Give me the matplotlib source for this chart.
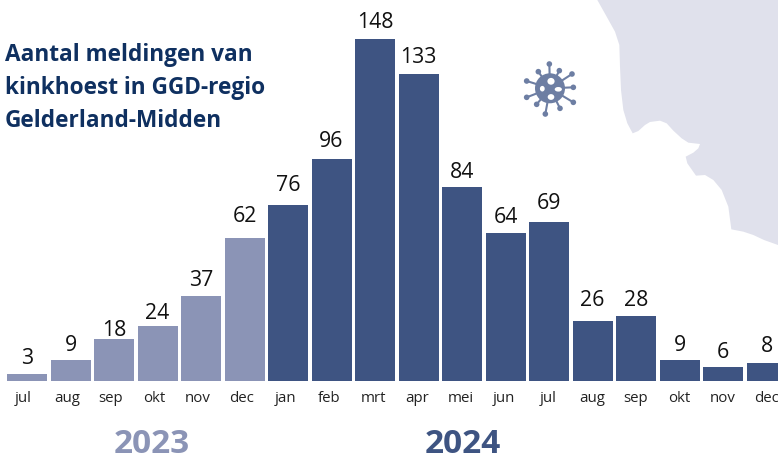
import matplotlib
matplotlib.use("Agg")
import matplotlib.pyplot as plt
from matplotlib.patches import Circle, Ellipse
import numpy as np

months = ["jul","aug","sep","okt","nov","dec","jan","feb","mrt","apr","mei","jun","jul","aug","sep","okt","nov","dec"]
values = [3,9,18,24,37,62,76,96,148,133,84,64,69,26,28,9,6,8]
years = ["2023"]*6 + ["2024"]*12
year_colors = {"2023":"#8b94b6","2024":"#3e5482"}
title = "Aantal meldingen van\nkinkhoest in GGD-regio\nGelderland-Midden"
# per-label vertical adjustment, in pixels
label_nudge = [-1,-2,-8,-5,-2,4,3,1,0,-1,-2,-1,1,4,-1,-2,-2,-1]

W,H = 778,454
plt.rcParams["font.family"] = ["Open Sans","DejaVu Sans"]
fig = plt.figure(figsize=(W/100,H/100),dpi=100)

# decorative background
bg = fig.add_axes([0,0,1,1],zorder=0)
bg.set_xlim(0,W); bg.set_ylim(H,0); bg.axis("off")
zoomed = [(22,0),(50,50),(75,95),(88,135),(90,200),(93,270),(100,330),(112,370),(128,400),(145,393),(165,375),(180,366),(210,362),(230,370),(250,392),(275,415),(295,428),(330,432),(325,445),(310,458),(287,470),(292,490),(318,527),(345,525),(370,540),(395,570),(415,620),(424,688),(460,695),(490,705),(522,720),(564,735)]
blob = [(590+x/3,y/3) for x,y in zoomed]+[(W,0)]
bg.fill(*zip(*blob),color="#e0e1ec",lw=0)

# virus icon
ic = "#6d7ea3"
cx,cy = 550,88.3
bg.add_patch(Circle((cx,cy),15,color=ic,lw=0,zorder=3))
heads = [(148,72),(178,92),(216,102),(220,142),(220,187),(180,205),(136,222),(110,193),(80,172),(80,123),(115,95)]
for hx,hy in heads:
    ex,ey = 500+hx/3,40+hy/3
    bg.plot([cx,ex],[cy,ey],color=ic,lw=1.5,solid_capstyle="round",zorder=2)
    bg.add_patch(Circle((ex,ey),2.8,color=ic,lw=0,zorder=3))
for hx,hy,rw,rh in [(551,81.3,3.6,3.4),(542.3,88.7,2.4,2.8),(558.3,89.3,3.6,2.3),(551,97,3.3,2.9)]:
    bg.add_patch(Ellipse((hx,hy),2*rw,2*rh,color="white",lw=0,zorder=4))

# chart
x0,step,base,pxu = 27.0,43.5,381.0,2.31
ax = fig.add_axes([0,(H-base)/H,1,base/H],zorder=1)
ax.patch.set_alpha(0)
ax.set_xlim(-x0/step,(W-x0)/step)
ax.set_ylim(0,base/pxu)
xs = np.arange(len(values))
ax.bar(xs,values,width=40/step,color=[year_colors[y] for y in years],lw=0)
for x,v,n in zip(xs,values,label_nudge):
    ax.annotate(str(v),(x,v),xytext=(0,4.6+n*0.72),textcoords="offset points",ha="center",va="bottom",fontsize=15.3,color="#111111",annotation_clip=False)
for s in ax.spines.values(): s.set_visible(False)
ax.set_yticks([])
tick_pos = (23+43.75*xs-x0)/step
ax.set_xticks(tick_pos,months,fontsize=10.8,color="#222222")
ax.tick_params(axis="x",length=0,pad=7.5)
for lab in ax.get_xticklabels(): lab.set_clip_on(False)

fig.text(5/W,1-43/H,title,fontsize=16.3,fontweight="bold",color="#0f3060",va="top",ha="left",linespacing=1.5)
for label,xpos in [("2023",2.875),("2024",10.03)]:
    ax.annotate(label,(xpos,0),xytext=(0,-52),textcoords="offset points",ha="center",va="baseline",fontsize=24,fontweight="bold",color=year_colors[label],annotation_clip=False)
fig.savefig("out.png",dpi=100)
